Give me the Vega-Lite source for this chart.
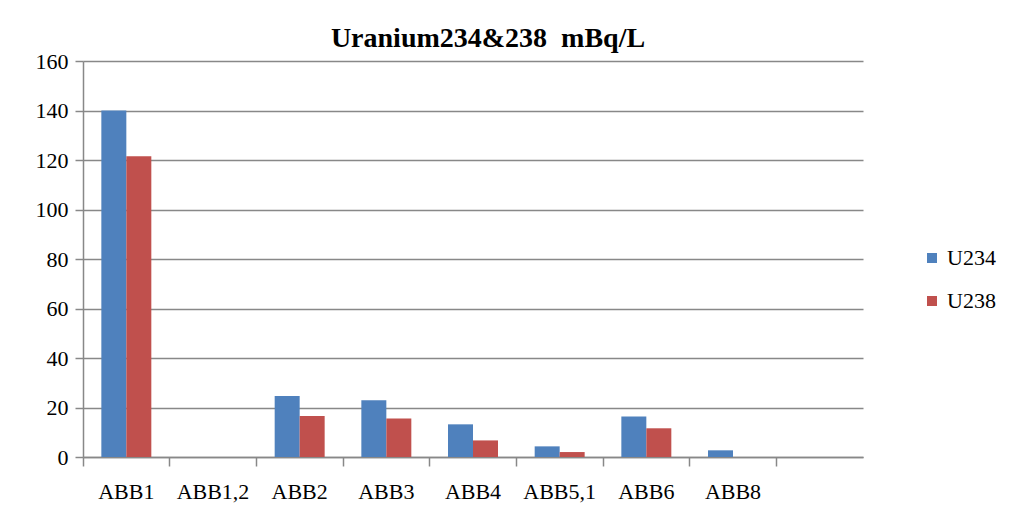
{
  "$schema": "https://vega.github.io/schema/vega-lite/v6.json",
  "width": 780,
  "height": 396,
  "autosize": {"type": "none"},
  "padding": {"left": 83, "top": 61, "right": 150, "bottom": 52},
  "background": "white",
  "title": {
    "text": "Uranium234&238 \u00a0mBq/L",
    "font": "Liberation Serif, Times New Roman, DejaVu Serif, serif",
    "fontSize": 28,
    "fontWeight": "bold",
    "color": "black",
    "dx": 15,
    "offset": -3
  },
  "data": {
    "values": [
      {"site": "ABB1", "isotope": "U234", "value": 140},
      {"site": "ABB1", "isotope": "U238", "value": 121.5},
      {"site": "ABB1,2", "isotope": "U234", "value": null},
      {"site": "ABB1,2", "isotope": "U238", "value": null},
      {"site": "ABB2", "isotope": "U234", "value": 24.6},
      {"site": "ABB2", "isotope": "U238", "value": 16.6},
      {"site": "ABB3", "isotope": "U234", "value": 22.9},
      {"site": "ABB3", "isotope": "U238", "value": 15.6},
      {"site": "ABB4", "isotope": "U234", "value": 13.2},
      {"site": "ABB4", "isotope": "U238", "value": 6.7},
      {"site": "ABB5,1", "isotope": "U234", "value": 4.3},
      {"site": "ABB5,1", "isotope": "U238", "value": 2.0},
      {"site": "ABB6", "isotope": "U234", "value": 16.4},
      {"site": "ABB6", "isotope": "U238", "value": 11.6},
      {"site": "ABB8", "isotope": "U234", "value": 2.7},
      {"site": "ABB8", "isotope": "U238", "value": null}
    ]
  },
  "mark": {"type": "bar"},
  "encoding": {
    "x": {
      "field": "site",
      "type": "nominal",
      "sort": null,
      "scale": {
        "domain": ["ABB1", "ABB1,2", "ABB2", "ABB3", "ABB4", "ABB5,1", "ABB6", "ABB8", " "],
        "paddingInner": 0,
        "paddingOuter": 0
      },
      "axis": {
        "title": null,
        "bandPosition": 0,
        "labelAngle": 0,
        "labelFont": "Liberation Serif, Times New Roman, DejaVu Serif, serif",
        "labelFontSize": 22,
        "labelColor": "black",
        "labelPadding": 15,
        "labelOverlap": false,
        "labelBound": false,
        "tickSize": 9,
        "tickColor": "#888888",
        "tickWidth": 1.5,
        "domainColor": "#888888",
        "domainWidth": 1.5,
        "grid": false
      }
    },
    "xOffset": {
      "field": "isotope",
      "type": "nominal",
      "scale": {"domain": ["U234", "U238"], "paddingInner": 0, "paddingOuter": 0.734}
    },
    "y": {
      "field": "value",
      "type": "quantitative",
      "scale": {"domain": [0, 160], "nice": false},
      "axis": {
        "title": null,
        "values": [0, 20, 40, 60, 80, 100, 120, 140, 160],
        "labelFont": "Liberation Serif, Times New Roman, DejaVu Serif, serif",
        "labelFontSize": 22,
        "labelColor": "black",
        "labelPadding": 7,
        "tickSize": 8,
        "tickColor": "#888888",
        "tickWidth": 1.5,
        "domainColor": "#888888",
        "domainWidth": 1.5,
        "gridColor": "#888888",
        "gridWidth": 1.5
      }
    },
    "color": {
      "field": "isotope",
      "type": "nominal",
      "scale": {"domain": ["U234", "U238"], "range": ["#4F81BD", "#C0504D"]},
      "legend": {
        "title": null,
        "orient": "none",
        "legendX": 838,
        "legendY": 186,
        "symbolType": "square",
        "symbolSize": 100,
        "symbolStrokeWidth": 0,
        "labelFont": "Liberation Serif, Times New Roman, DejaVu Serif, serif",
        "labelFontSize": 22,
        "labelColor": "black",
        "labelOffset": 4,
        "rowPadding": 21,
        "padding": 0
      }
    }
  },
  "config": {
    "view": {"stroke": null}
  }
}
